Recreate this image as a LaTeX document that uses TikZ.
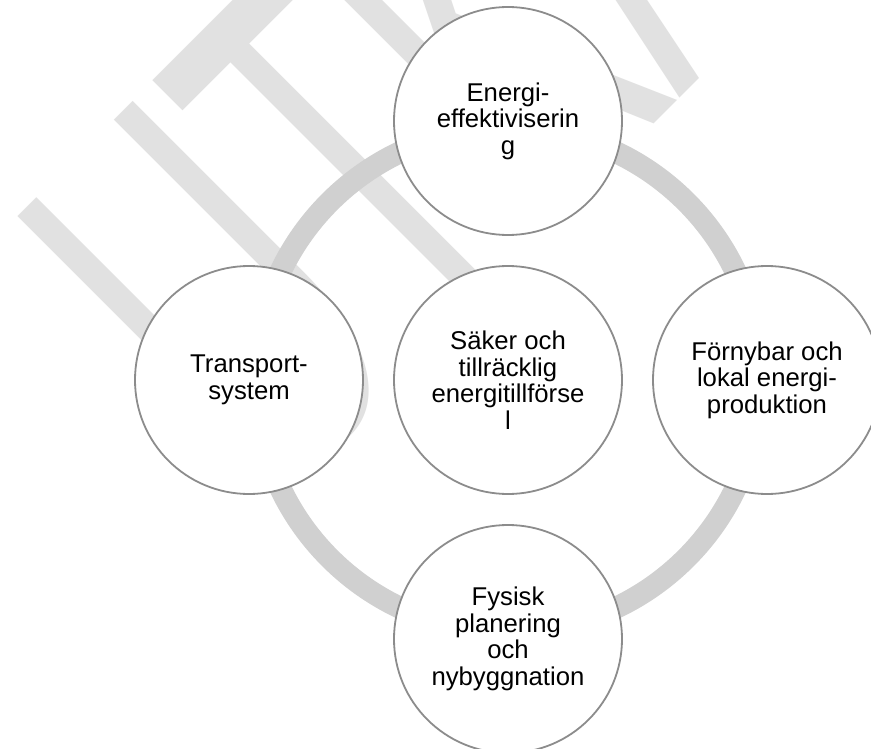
\documentclass[tikz,border=0pt]{standalone}
\usepackage{fontspec}
\setmainfont{Liberation Sans}
\usepackage{graphicx}
\usetikzlibrary{positioning}
\definecolor{ringgray}{HTML}{D0D0D0}
\definecolor{wmgray}{HTML}{E1E1E1}
\definecolor{rimgray}{HTML}{8C8C8C}
\newcommand{\bubfont}{\fontsize{25.7}{26.5}\selectfont}
\newcommand{\wmfont}{\fontsize{287}{287}\selectfont}
\tikzset{
  bub/.style={circle, draw=rimgray, line width=1.8pt, fill=white, minimum size=228pt,
              inner sep=0pt, outer sep=0pt, align=center, font=\bubfont},
  ring/.style={ringgray, line width=22pt},
  wmark/.style={wmgray, inner sep=0pt, outer sep=0pt, font=\wmfont},
}

\begin{document}
\begin{tikzpicture}[x=1pt, y=-1pt, node distance=31pt]
  \useasboundingbox (0,0) rectangle (871,749);
  \fill[white] (0,0) rectangle (871,749);
  \clip (0,0) rectangle (871,749);
  % watermark
  \node[wmark, rotate=45, anchor=base west] (wm) at (274,504) {\scalebox{1}[1.95]{UTKAST}};
  % ring
  \coordinate (hub) at (508,380);
  \draw[ring] (hub) circle[radius=252];
  % bubbles
  \node[bub] (mid) at (hub) {Säker och\\ tillräcklig\\ energitillförse\\ l};
  \node[bub, above=of mid] (eff) {Energi-\\ effektiviserin\\ g};
  \node[bub, left=of mid] (trans) {Transport-\\ system};
  \node[bub, right=of mid] (prod) {Förnybar och\\ lokal energi-\\ produktion};
  \node[bub, below=of mid] (plan) {Fysisk\\ planering\\ och\\ nybyggnation};
\end{tikzpicture}
\end{document}
